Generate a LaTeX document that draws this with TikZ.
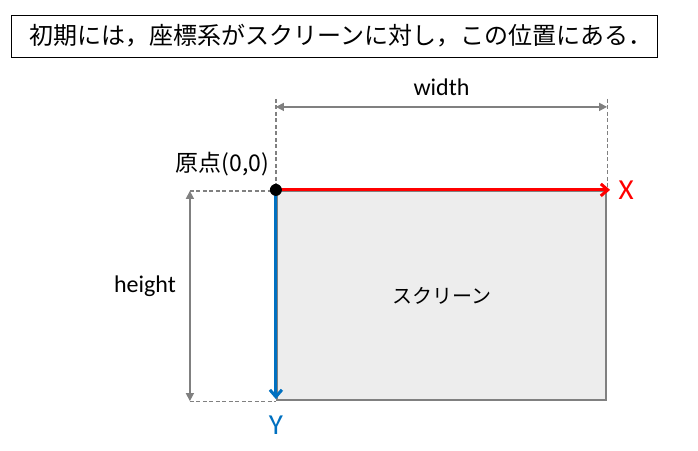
\documentclass[tikz,border=0pt]{standalone}
\usepackage{fontspec}
\setmainfont{Carlito}
\newfontfamily\jpfont{Noto Sans CJK JP}
\usetikzlibrary{positioning,calc,arrows.meta}
\definecolor{axisblue}{HTML}{0070C0}
\definecolor{dimgray}{HTML}{808080}
\definecolor{screenfill}{HTML}{EDEDED}
\tikzset{TITLE/.style={rectangle,draw,semithick,minimum width=646pt,minimum height=42pt,font=\jpfont\fontsize{24}{24}\selectfont}}
\tikzset{SCREEN/.style={rectangle,draw=dimgray,line width=2.2pt,fill=screenfill,minimum width=329pt,minimum height=209pt,font=\jpfont\fontsize{20}{20}\selectfont}}
\tikzset{XAXIS/.style={line width=3pt,red,-{Straight Barb[length=7pt,width=12pt]}}}
\tikzset{YAXIS/.style={line width=3pt,axisblue,-{Straight Barb[length=7pt,width=12pt]}}}
\tikzset{DIM/.style={line width=1.5pt,dimgray,{Triangle[length=8pt,width=8pt]}-{Triangle[length=8pt,width=8pt]}}}
\tikzset{GUIDE/.style={line width=1.2pt,dimgray,dash pattern=on 4pt off 2.5pt}}
\tikzset{LABEL/.style={text=black,font=\fontsize{24}{24}\selectfont}}
\tikzset{AXISLABEL/.style={font=\fontsize{29}{29}\selectfont}}

\begin{document}
\begin{tikzpicture}[x=1pt,y=-1pt]
\useasboundingbox (0,0) rectangle (698,450);

\node[TITLE] (n_title) at (334,36) {\hspace*{14pt}初期には，座標系がスクリーンに対し，この位置にある．};

\node[SCREEN] (n_screen) at (441.5,295.5) {スクリーン};

\coordinate (c_origin) at (n_screen.north west);
\coordinate (c_x_end) at ($(n_screen.north east)+(3,0)$);
\coordinate (c_y_end) at ($(n_screen.south west)+(0,-2)$);

% guide lines
\coordinate (c_w_left) at ($(c_origin)+(0,-91)$);
\coordinate (c_w_right) at ($(n_screen.north east)+(0,-91)$);
\draw[GUIDE] (c_w_left) -- (c_origin);
\draw[GUIDE] (c_w_right) -- (n_screen.north east);
\coordinate (c_h_top) at ($(c_origin)+(-86,1)$);
\coordinate (c_h_bottom) at ($(n_screen.south west)+(-86,0)$);
\draw[GUIDE] (c_h_top) -- ($(c_origin)+(0,1)$);
\draw[GUIDE] (c_h_bottom) -- (n_screen.south west);

% dimensions
\draw[DIM] ($(c_w_left)+(0,8)$) -- ($(c_w_right)+(0,8)$) node[midway,above=7pt,LABEL]{width};
\draw[DIM] (c_h_top) -- (c_h_bottom) node[pos=0.455,left=10pt,LABEL]{height};

% axes
\draw[XAXIS] (c_origin) -- (c_x_end);
\draw[YAXIS] (c_origin) -- (c_y_end);
\node[red,AXISLABEL,right=5pt of c_x_end] (n_x) {X};
\node[axisblue,AXISLABEL,below=13pt of c_y_end] (n_y) {Y};

\fill (c_origin) circle (6pt);
\node[anchor=east,font=\jpfont\fontsize{23}{23}\selectfont] (n_origin) at ($(c_origin)+(-3,-26)$) {原点(0,0)};

\end{tikzpicture}
\end{document}
